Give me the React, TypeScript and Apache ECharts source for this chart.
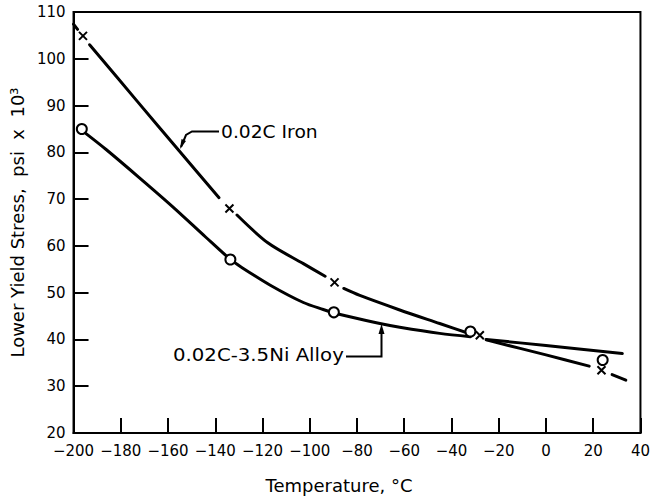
import React, { useEffect, useRef } from "react";
import * as echarts from "echarts";

// Temperature (°C) / lower yield stress (psi x 10^3)
const ironPoints: [number, number][] = [
  [-196, 104.9],
  [-134, 68],
  [-89.5, 52.2],
  [-28, 40.9],
  [23.5, 33.4],
];
const alloyPoints: [number, number][] = [
  [-196.5, 85],
  [-133.6, 57.1],
  [-89.8, 45.8],
  [-32, 41.7],
  [24, 35.6],
];

// fitted curve pieces, broken where the original breaks
const ironCurve1: [number, number][] = [[-200, 107.4], [-198.3, 106.3]];
const ironCurve2: [number, number][] = [[-193.2, 103.0], [-173, 90.9], [-155.4, 80.4], [-138.4, 70.3]];
const ironCurve3: [number, number][] = [[-130.8, 66.6], [-117.6, 60.6], [-102.7, 56.2], [-93.5, 53.5]];
const ironCurve4: [number, number][] = [[-85.6, 50.9], [-78.8, 49.4], [-61.9, 46.3], [-45, 43.4], [-31, 41.0]];
const ironCurve5: [number, number][] = [[-25.3, 39.9], [0, 36.7], [18.3, 34.3]];
const ironCurve6: [number, number][] = [[28, 32.5], [33.8, 31.3]];

const alloyCurve1: [number, number][] = [
  [-194.7, 84.0], [-186.2, 80.6], [-172.2, 74.6], [-158.1, 68.4], [-144.1, 61.9],
  [-133.6, 57.1], [-129.4, 55.6], [-116.7, 51.6], [-102.7, 47.9], [-94.3, 46.4],
  [-89.8, 45.7], [-84.4, 45.0], [-70.3, 43.4], [-61.9, 42.6], [-45, 41.3], [-32, 40.6],
];
const alloyCurve2: [number, number][] = [[-25.3, 40.0], [0, 38.7], [32.3, 37.0]];

const xTicks = { min: -200, max: 40, interval: 20 };
const yTicks = { min: 20, max: 110, interval: 10 };

const FONT = "DejaVu Sans";

export default function App() {
  const ref = useRef<HTMLDivElement>(null);
  useEffect(() => {
    if (!ref.current) return;
    const chart = echarts.init(ref.current, null, { renderer: "svg" });
    const lineSeries = (data: [number, number][], z = 2) => ({
      type: "line",
      data,
      smooth: 0.3,
      symbol: "none",
      silent: true,
      z,
      lineStyle: { color: "#000", width: 3, cap: "round" },
    });
    chart.setOption({
      animation: false,
      backgroundColor: "#fff",
      grid: { left: 73, right: 11, top: 12, bottom: 71, show: true, borderColor: "#000", borderWidth: 2 },
      xAxis: {
        type: "value",
        min: xTicks.min,
        max: xTicks.max,
        interval: xTicks.interval,
        name: "Temperature, °C",
        nameLocation: "middle",
        nameGap: 43,
        nameTextStyle: { fontFamily: FONT, fontSize: 18, color: "#000", padding: [0, 36, 0, 0] },
        axisLine: { show: true, onZero: false, lineStyle: { color: "#000", width: 2 } },
        axisTick: { show: true, inside: true, length: 15, lineStyle: { color: "#000", width: 2 } },
        axisLabel: {
          fontFamily: FONT,
          fontSize: 15,
          color: "#000",
          margin: 10,
          formatter: (v: number) => (v < 0 ? "\u2212" + Math.abs(v) : String(v)),
        },
        splitLine: { show: false },
      },
      yAxis: {
        type: "value",
        min: yTicks.min,
        max: yTicks.max,
        interval: yTicks.interval,
        name: "Lower Yield Stress,  psi  x  10³",
        nameLocation: "middle",
        nameGap: 46,
        nameTextStyle: { fontFamily: FONT, fontSize: 18, color: "#000" },
        axisLine: { show: true, onZero: false, lineStyle: { color: "#000", width: 2 } },
        axisTick: { show: true, inside: true, length: 15, lineStyle: { color: "#000", width: 2 } },
        axisLabel: { fontFamily: FONT, fontSize: 15, color: "#000", margin: 8 },
        splitLine: { show: false },
      },
      series: [
        lineSeries(ironCurve1),
        lineSeries(ironCurve2),
        lineSeries(ironCurve3),
        lineSeries(ironCurve4),
        lineSeries(ironCurve5),
        lineSeries(ironCurve6),
        lineSeries(alloyCurve1),
        lineSeries(alloyCurve2),
        {
          type: "scatter",
          data: alloyPoints,
          symbol: "circle",
          symbolSize: 10,
          z: 5,
          itemStyle: { color: "#fff", borderColor: "#000", borderWidth: 2, opacity: 1 },
        },
        {
          type: "scatter",
          data: ironPoints,
          symbol: "path://M0,0L10,10M10,0L0,10",
          symbolSize: 8,
          z: 6,
          itemStyle: { color: "none", borderColor: "#000", borderWidth: 2, opacity: 1 },
        },
      ],
      graphic: [
        {
          type: "polyline",
          shape: { points: [[181, 147], [186, 135], [192, 131.5], [219, 131.5]] },
          style: { stroke: "#000", lineWidth: 2, fill: "none" },
        },
        {
          type: "polygon",
          shape: { points: [[180, 149], [181.5, 139], [186, 141]] },
          style: { fill: "#000" },
        },
        {
          type: "text",
          x: 221,
          y: 131.5,
          scaleX: 1.1,
          style: { text: "0.02C Iron", font: `17px "${FONT}"`, fill: "#000", verticalAlign: "middle", align: "left" },
        },
        {
          type: "polyline",
          shape: { points: [[346, 356.5], [381.5, 356.5], [381.5, 331]] },
          style: { stroke: "#000", lineWidth: 2, fill: "none" },
        },
        {
          type: "polygon",
          shape: { points: [[381.5, 324], [378.5, 334], [384.5, 334]] },
          style: { fill: "#000" },
        },
        {
          type: "text",
          x: 173,
          y: 355,
          scaleX: 1.16,
          style: { text: "0.02C-3.5Ni Alloy", font: `17px "${FONT}"`, fill: "#000", verticalAlign: "middle", align: "left" },
        },
      ],
    });
    return () => chart.dispose();
  }, []);
  return <div ref={ref} style={{ position: "fixed", left: 0, top: 0, width: 653, height: 504 }} />;
}
